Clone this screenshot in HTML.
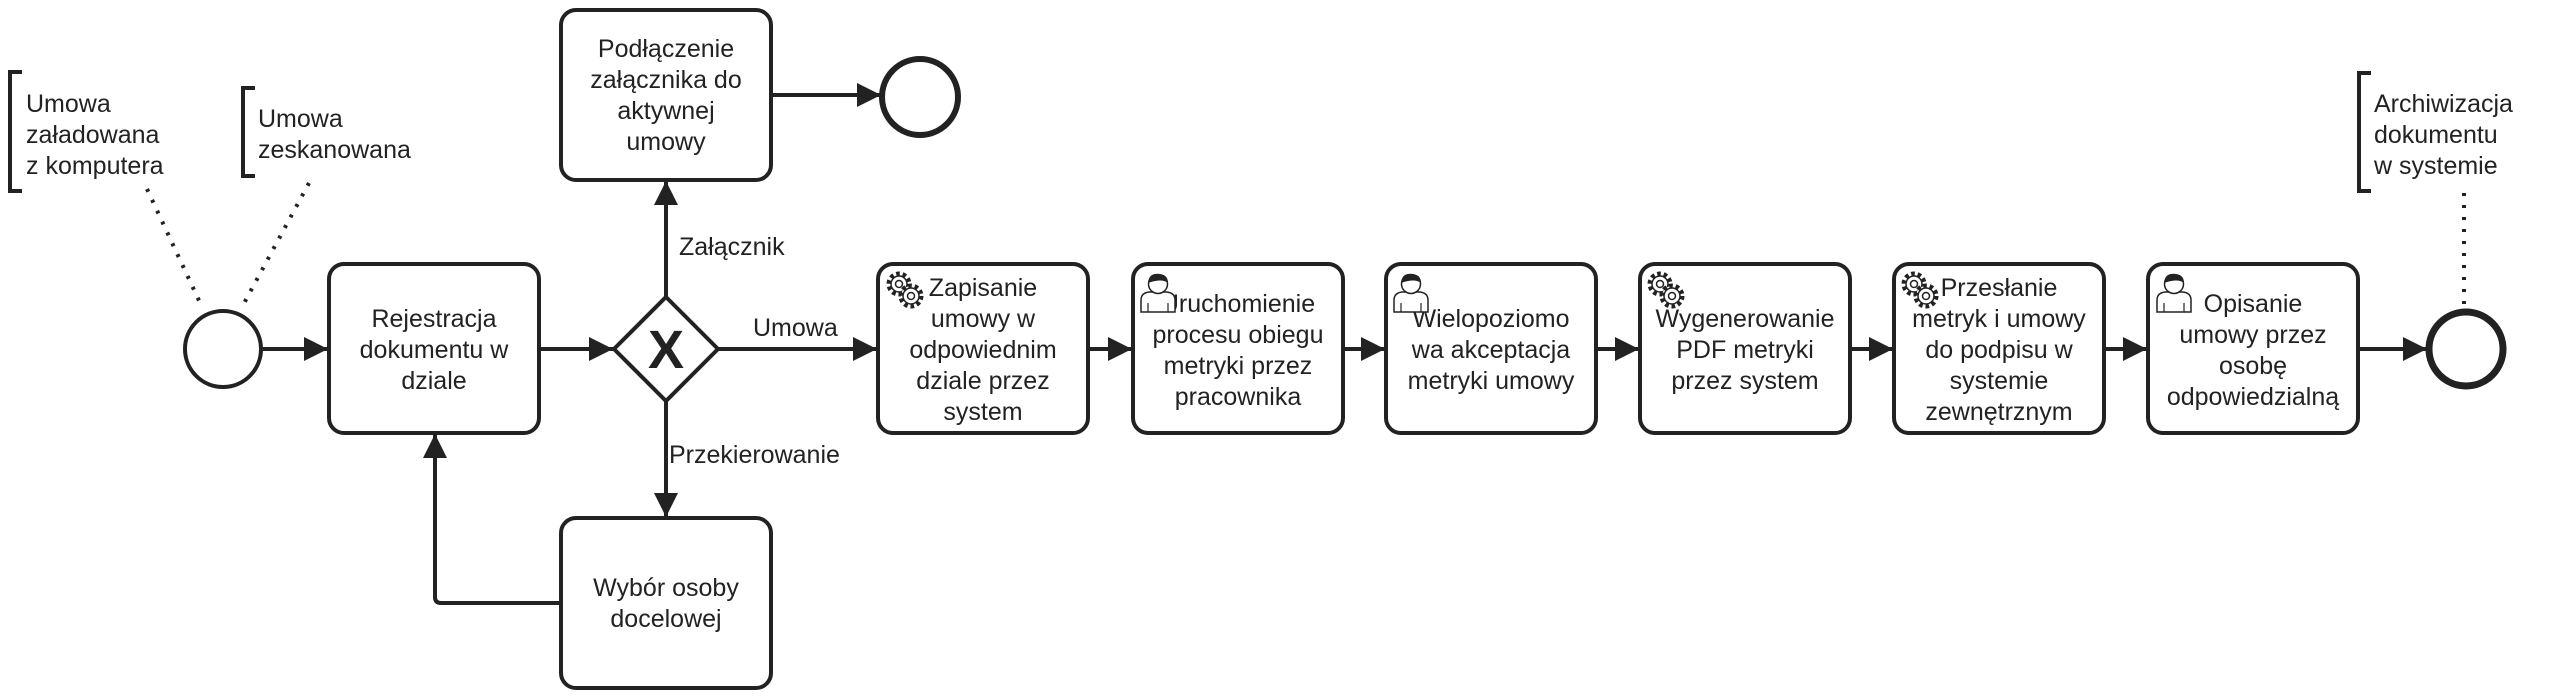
<!DOCTYPE html>
<html><head><meta charset="utf-8"><style>
html,body{margin:0;padding:0;background:#fff;}
svg{display:block}
text{font-family:"Liberation Sans",Arial,sans-serif;font-size:25px;fill:#222;}
</style></head><body>
<svg width="2560" height="698" viewBox="0 0 2560 698" xmlns="http://www.w3.org/2000/svg">
<defs>
<marker id="a" viewBox="0 0 10 10" refX="10" refY="5" markerWidth="6" markerHeight="6" orient="auto" markerUnits="strokeWidth">
<path d="M0,0 L10,5 L0,10 z" fill="#222"/></marker>
<g id="gear"><g fill="#fff" stroke="#222" stroke-width="1.5">
<circle cx="14" cy="14" r="10" stroke-dasharray="3.5 2.8" stroke-width="5"/>
<circle cx="14" cy="14" r="8"/><circle cx="14" cy="14" r="3.5"/>
<circle cx="26" cy="26" r="10" stroke-dasharray="3.5 2.8" stroke-width="5"/>
<circle cx="26" cy="26" r="8"/><circle cx="26" cy="26" r="3.5"/></g></g>
<g id="user"><path d="M3,40 L3,28 Q3,21 11,20 L29,20 Q37,21 37,28 L37,40 Z" fill="#fff" stroke="#222" stroke-width="1.5"/>
<circle cx="20" cy="12" r="9.5" fill="#fff" stroke="#222" stroke-width="1.5"/>
<path d="M10,11 Q11,1 20,2 Q30,2 30,11 Q24,6 10,11 Z" fill="#222"/>
<path d="M10,40 L10,31 M30,40 L30,31" stroke="#222" stroke-width="1.2"/></g>
</defs>
<g fill="none" stroke="#222" stroke-width="4">
<path d="M22,72 L10,72 L10,191 L22,191"/>
<path d="M255,88 L243,88 L243,176 L255,176"/>
<path d="M2371,73 L2359,73 L2359,191 L2371,191"/>
<path d="M147,189 L202,307" stroke-dasharray="3 9"/>
<path d="M309,183 L242,307" stroke-dasharray="3 9"/>
<path d="M2464,193 L2464,307" stroke-dasharray="3 9"/>
<circle cx="223" cy="349" r="38"/>
<circle cx="920" cy="97" r="38" stroke-width="6"/>
<circle cx="2466" cy="349" r="37" stroke-width="7"/>
<rect x="329" y="264" width="210" height="169" rx="15"/>
<rect x="561" y="10" width="210" height="170" rx="15"/>
<rect x="561" y="518" width="210" height="170" rx="15"/>
<rect x="878" y="264" width="210" height="169" rx="15"/>
<rect x="1133" y="264" width="210" height="169" rx="15"/>
<rect x="1386" y="264" width="210" height="169" rx="15"/>
<rect x="1640" y="264" width="210" height="169" rx="15"/>
<rect x="1894" y="264" width="210" height="169" rx="15"/>
<rect x="2148" y="264" width="210" height="169" rx="15"/>
<path d="M666,297 L718,349 L666,401 L614,349 Z"/>
<path d="M262,349 L328,349" marker-end="url(#a)"/>
<path d="M539,349 L613,349" marker-end="url(#a)"/>
<path d="M718,349 L877,349" marker-end="url(#a)"/>
<path d="M666,297 L666,181" marker-end="url(#a)"/>
<path d="M666,401 L666,517" marker-end="url(#a)"/>
<path d="M771,95 L881,95" marker-end="url(#a)"/>
<path d="M561,603 L441,603 Q435,603 435,597 L435,434" marker-end="url(#a)"/>
<path d="M1088,349 L1132,349" marker-end="url(#a)"/>
<path d="M1343,349 L1385,349" marker-end="url(#a)"/>
<path d="M1596,349 L1639,349" marker-end="url(#a)"/>
<path d="M1850,349 L1893,349" marker-end="url(#a)"/>
<path d="M2104,349 L2147,349" marker-end="url(#a)"/>
<path d="M2358,349 L2427,349" marker-end="url(#a)"/>
</g>
<text x="666" y="368" text-anchor="middle" style="font-size:54px;font-weight:bold">X</text>
<text x="26" y="112">Umowa</text><text x="26" y="143">załadowana</text><text x="26" y="174">z komputera</text>
<text x="258" y="127">Umowa</text><text x="258" y="158">zeskanowana</text>
<text x="2374" y="112">Archiwizacja</text><text x="2374" y="143">dokumentu</text><text x="2374" y="174">w systemie</text>
<text x="679" y="255">Załącznik</text>
<text x="753" y="336">Umowa</text>
<text x="669" y="463">Przekierowanie</text>
<g text-anchor="middle">
<text x="434" y="327">Rejestracja</text><text x="434" y="358">dokumentu w</text><text x="434" y="389">dziale</text>
<text x="666" y="57">Podłączenie</text><text x="666" y="88">załącznika do</text><text x="666" y="119">aktywnej</text><text x="666" y="150">umowy</text>
<text x="666" y="596">Wybór osoby</text><text x="666" y="627">docelowej</text>
<text x="983" y="296">Zapisanie</text><text x="983" y="327">umowy w</text><text x="983" y="358">odpowiednim</text><text x="983" y="389">dziale przez</text><text x="983" y="420">system</text>
<text x="1238" y="312">Uruchomienie</text><text x="1238" y="343">procesu obiegu</text><text x="1238" y="374">metryki przez</text><text x="1238" y="405">pracownika</text>
<text x="1491" y="327">Wielopoziomo</text><text x="1491" y="358">wa akceptacja</text><text x="1491" y="389">metryki umowy</text>
<text x="1745" y="327">Wygenerowanie</text><text x="1745" y="358">PDF metryki</text><text x="1745" y="389">przez system</text>
<text x="1999" y="296">Przesłanie</text><text x="1999" y="327">metryk i umowy</text><text x="1999" y="358">do podpisu w</text><text x="1999" y="389">systemie</text><text x="1999" y="420">zewnętrznym</text>
<text x="2253" y="312">Opisanie</text><text x="2253" y="343">umowy przez</text><text x="2253" y="374">osobę</text><text x="2253" y="405">odpowiedzialną</text>
</g>
<use href="#gear" x="885" y="270"/>
<use href="#user" x="1138" y="272"/>
<use href="#user" x="1391" y="272"/>
<use href="#gear" x="1646" y="270"/>
<use href="#gear" x="1900" y="270"/>
<use href="#user" x="2154" y="272"/>
</svg>
</body></html>
